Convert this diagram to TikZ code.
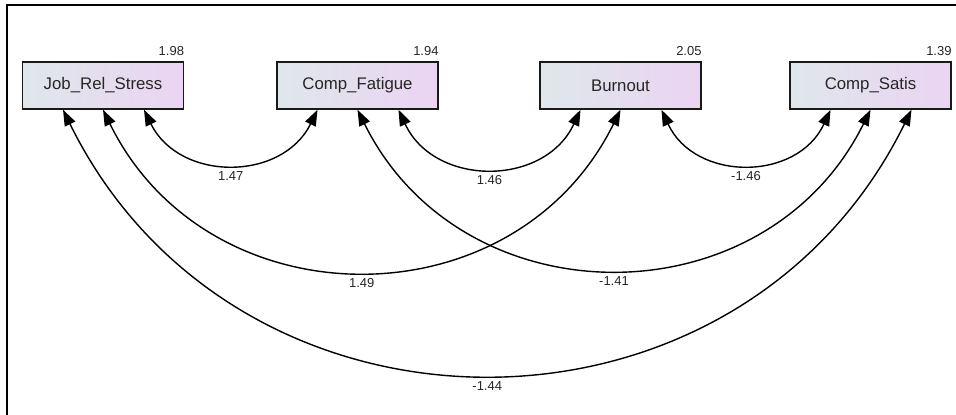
\documentclass[tikz,border=0pt]{standalone}
\usepackage{fontspec}
\setmainfont{Liberation Sans}
\usetikzlibrary{arrows.meta,calc}
\definecolor{boxl}{RGB}{223,231,235}
\definecolor{boxr}{RGB}{235,212,243}
\begin{document}
\begin{tikzpicture}[x=1pt,y=1pt,
  var/.style={draw=black!90, line width=1.5pt, minimum width=161pt, minimum height=47pt,
    inner sep=0pt, left color=boxl, right color=boxr, text=black!85,
    font=\fontsize{16.8}{18}\selectfont},
  vlab/.style={anchor=base east, inner sep=0pt, text=black!85, font=\fontsize{13}{14}\selectfont},
  clab/.style={inner sep=0pt, anchor=north, yshift=-7pt, text=black!85, font=\fontsize{13}{14}\selectfont},
  cov/.style={line width=1.4pt, {Triangle[length=16pt,width=11.5pt]}-{Triangle[length=16pt,width=11.5pt]}}]
\useasboundingbox (0,0) rectangle (956,415);
% frame
\draw[line width=1.5pt] (7,0) -- (7,410) -- (956,410);
% boxes
\node[var] (J) at (103,329.5) {Job\_Rel\_Stress};
\node[var] (F) at (357.5,329.5) {Comp\_Fatigue};
\node[var] (B) at (620.5,329.5) {Burnout};
\node[var] (S) at (870.5,329.5) {Comp\_Satis};
% variances
\node[vlab] (vJ) at ($(J.north east)+(0,6)$) {1.98};
\node[vlab] (vF) at ($(F.north east)+(0,6)$) {1.94};
\node[vlab] (vB) at ($(B.north east)+(0,6)$) {2.05};
\node[vlab] (vS) at ($(S.north east)+(0,6)$) {1.39};
% ports
\foreach \n in {J,F,B,S}{
  \coordinate (\n1) at ($(\n.south)+(-40,0)$);
  \coordinate (\n2) at ($(\n.south)+(0,0)$);
  \coordinate (\n3) at ($(\n.south)+(41,0)$);
}
% covariances
\draw[cov] (J3) .. controls +(35.4,-72.0) and +(-35.4,-72.0) .. (F1) node[clab,pos=0.5] (c1) {1.47};
\draw[cov] (F3) .. controls +(36.0,-77.3) and +(-36.0,-77.3) .. (B1) node[clab,pos=0.5] (c2) {1.46};
\draw[cov] (B3) .. controls +(33.3,-72.0) and +(-33.3,-72.0) .. (S1) node[clab,pos=0.5] (c3) {-1.46};
\draw[cov] (J2) .. controls +(105.7,-214.7) and +(-105.7,-214.7) .. (B2) node[clab,pos=0.5] (c4) {1.49};
\draw[cov] (F2) .. controls +(105.3,-212.1) and +(-105.3,-212.1) .. (S2) node[clab,pos=0.5] (c5) {-1.41};
\draw[cov] (J1) .. controls +(173.3,-352.0) and +(-173.3,-352.0) .. (S3) node[clab,pos=0.5] (c6) {-1.44};
\end{tikzpicture}
\end{document}
